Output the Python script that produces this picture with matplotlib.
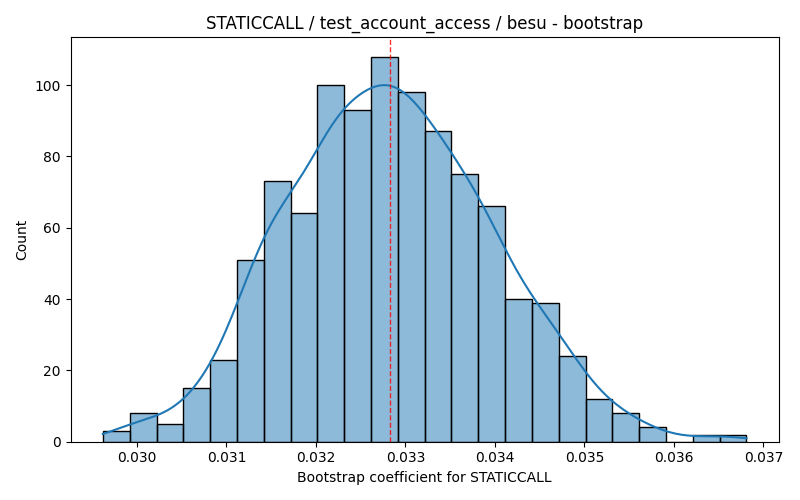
import numpy as np
import matplotlib
matplotlib.use("Agg")
import matplotlib.pyplot as plt
import seaborn as sns

# bootstrap histogram (24 bins, 1000 samples)
counts = [3, 8, 5, 15, 23, 51, 73, 64, 100, 93, 108, 98,
          87, 75, 66, 40, 39, 24, 12, 8, 4, 0, 2, 2]
x_min = 0.02962
x_max = 0.03681
point_estimate = 0.03283
opcode = "STATICCALL"
title = "STATICCALL / test_account_access / besu - bootstrap"

edges = np.linspace(x_min, x_max, len(counts) + 1)
centers = (edges[:-1] + edges[1:]) / 2
samples = np.repeat(centers, counts)

fig, ax = plt.subplots(figsize=(8, 5), dpi=100)
sns.histplot(x=samples, bins=edges, kde=True, ax=ax,
             kde_kws={'cut': 0.5, 'bw_adjust': 1.05})
ax.axvline(point_estimate, color='red', linestyle='--', linewidth=1, alpha=0.8)
ax.set_title(title)
ax.set_xlabel("Bootstrap coefficient for " + opcode)
ax.set_ylabel("Count")
plt.tight_layout()
plt.savefig("out.png")
